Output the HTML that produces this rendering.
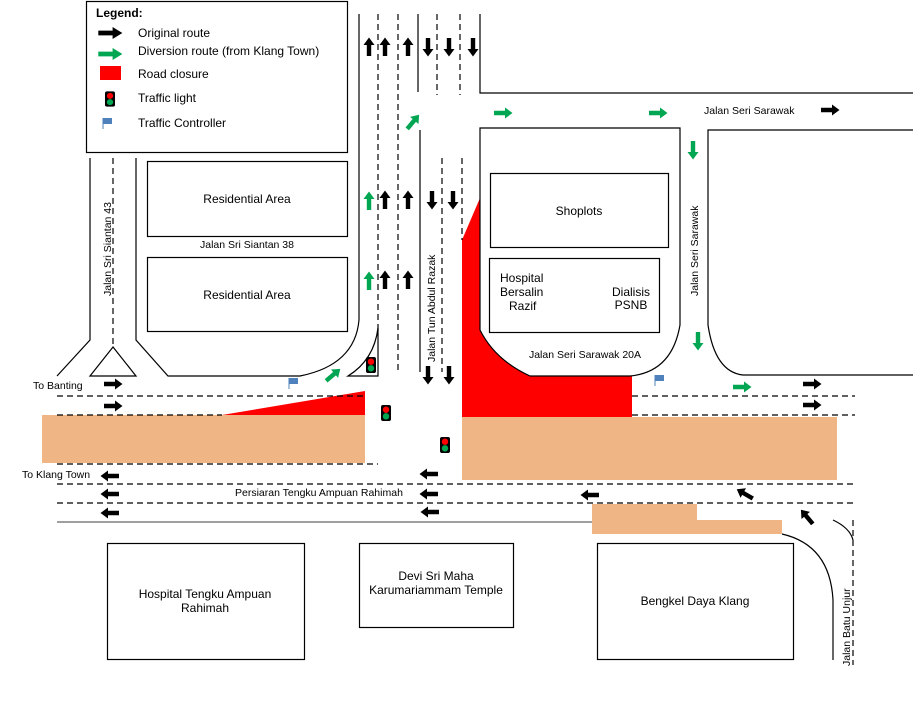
<!DOCTYPE html>
<html><head><meta charset="utf-8"><style>
html,body{margin:0;padding:0;background:#fff}
svg{display:block;font-family:"Liberation Sans",sans-serif}
text{font-size:12px;fill:#000}
</style></head><body>
<svg width="913" height="703" viewBox="0 0 913 703" xmlns="http://www.w3.org/2000/svg">
<defs>
<g id="ab"><path d="M-9,-2.2 L2,-2.2 L2,-5.5 L9.5,0 L2,5.5 L2,2.2 L-9,2.2 Z" fill="#000"/></g>
<g id="ag"><path d="M-9,-2.2 L2,-2.2 L2,-5.5 L9.5,0 L2,5.5 L2,2.2 L-9,2.2 Z" fill="#00a651"/></g>
<g id="tl"><rect x="-5" y="-8" width="10" height="16" rx="2" fill="#000"/><circle cx="0" cy="-3.3" r="3.2" fill="#f00"/><circle cx="0" cy="3.3" r="3.2" fill="#00a651"/></g>
<g id="fl"><line x1="0" y1="0" x2="0" y2="11" stroke="#4f81bd" stroke-width="1"/><rect x="0" y="0" width="9" height="6" fill="#4f81bd"/></g>
</defs>

<rect x="42" y="415" width="323" height="48" fill="#f0b585"/>
<rect x="462" y="417" width="375" height="63" fill="#f0b585"/>
<path d="M592,504 H697 V520 H782 V534 H592 Z" fill="#f0b585"/>
<path d="M222,415 L365,391 L365,415 Z" fill="#f00"/>
<path d="M462,240 L480,198 L480,330 Q495,360 530,376 L632,376 L632,417 L462,417 Z" fill="#f00"/>

<g fill="none" stroke="#000" stroke-width="1.2">
<rect x="86.5" y="1.5" width="261" height="151"/>
<path d="M359,14 V320 Q355,365 300,376 H168 L136,340 V158"/>
<path d="M90,158 V340 L57,376"/>
<path d="M113,347 L90,376 H136 Z"/>
<path d="M348,376 Q374,360 378,328 V376 Z"/>
<path d="M418,14 V92"/>
<path d="M420,130 V372"/>
<path d="M480,14 V93 H913"/>
<path d="M480,128 H680 V325 Q672,372 630,376 H530 Q495,360 480,330 Z"/>
<path d="M913,130 H708 V325 Q715,372 743,375 H913"/>
<rect x="147.5" y="161.5" width="200" height="75"/>
<rect x="147.5" y="257.5" width="200" height="74"/>
<rect x="490.5" y="173.5" width="178" height="74"/>
<rect x="489.5" y="258.5" width="170" height="74"/>
<path d="M57,522 H592" stroke="#666"/>
<path d="M782,534 Q830,545 833,600 V660"/>
<path d="M833,520 Q850,528 853,540"/>
<rect x="107.5" y="543.5" width="197" height="116"/>
<rect x="359.5" y="543.5" width="154" height="84"/>
<rect x="597.5" y="543.5" width="196" height="116"/>
</g>
<g fill="none" stroke="#000" stroke-width="1.2" stroke-dasharray="6,4">
<path d="M113,158 V347"/>
<path d="M378,14 V330"/>
<path d="M398,14 V372"/>
<path d="M437,14 V95"/><path d="M460,14 V95"/>
<path d="M442,158 V372"/><path d="M462,158 V240"/>
<path d="M57,396 H365"/><path d="M632,396 H855"/>
<path d="M57,415 H222"/><path d="M632,415 H855"/>
<path d="M57,464 H378"/>
<path d="M57,484 H855"/>
<path d="M57,503 H855"/>
<path d="M853,520 V665"/>
</g>

<text x="96" y="17" font-weight="bold">Legend:</text>
<use href="#ab" transform="translate(110,33) scale(1.3,1.1)"/>
<text x="138" y="37">Original route</text>
<use href="#ag" transform="translate(110,54) scale(1.3,1.1)"/>
<text x="138" y="55">Diversion route (from Klang Town)</text>
<rect x="100" y="66" width="21" height="14" fill="#f00"/>
<text x="138" y="78">Road closure</text>
<use href="#tl" transform="translate(110,99) scale(1,0.95)"/>
<text x="138" y="102">Traffic light</text>
<use href="#fl" transform="translate(103,118)"/>
<text x="138" y="127">Traffic Controller</text>

<text x="247" y="203" text-anchor="middle">Residential Area</text>
<text x="247" y="299" text-anchor="middle">Residential Area</text>
<text x="247" y="248" text-anchor="middle" style="font-size:10.5px">Jalan  Sri Siantan 38</text>
<text transform="translate(111,296) rotate(-90)" style="font-size:10.5px">Jalan Sri Siantan 43</text>
<text transform="translate(435,362) rotate(-90)" style="font-size:10.5px">Jalan Tun Abdul Razak</text>
<text transform="translate(698,296) rotate(-90)" style="font-size:10.5px">Jalan  Seri Sarawak</text>
<text transform="translate(850,666) rotate(-90)" style="font-size:10.5px">Jalan Batu Unjur</text>
<text x="579" y="215" text-anchor="middle">Shoplots</text>
<text x="500" y="282">Hospital</text>
<text x="500" y="296">Bersalin</text>
<text x="509" y="310">Razif</text>
<text x="631" y="296" text-anchor="middle">Dialisis</text>
<text x="631" y="309" text-anchor="middle">PSNB</text>
<text x="585" y="358" text-anchor="middle" style="font-size:10.5px">Jalan  Seri Sarawak 20A</text>
<text x="704" y="114" style="font-size:10.5px">Jalan  Seri Sarawak</text>
<text x="33" y="389" style="font-size:10.5px">To Banting</text>
<text x="22" y="478" style="font-size:10.5px">To Klang Town</text>
<text x="235" y="496" style="font-size:10.5px">Persiaran Tengku  Ampuan Rahimah</text>
<text x="205" y="598" text-anchor="middle">Hospital Tengku Ampuan</text>
<text x="205" y="612" text-anchor="middle">Rahimah</text>
<text x="436" y="580" text-anchor="middle">Devi Sri Maha</text>
<text x="436" y="594" text-anchor="middle">Karumariammam Temple</text>
<text x="695" y="605" text-anchor="middle">Bengkel Daya Klang</text>

<use href="#tl" transform="translate(371,365)"/>
<use href="#tl" transform="translate(386,413)"/>
<use href="#tl" transform="translate(445,445)"/>
<use href="#fl" transform="translate(289,378)"/>
<use href="#fl" transform="translate(655,375)"/>

<use href="#ab" transform="translate(369,47) rotate(-90)"/>
<use href="#ab" transform="translate(385,47) rotate(-90)"/>
<use href="#ab" transform="translate(408,47) rotate(-90)"/>
<use href="#ab" transform="translate(428,47) rotate(90)"/>
<use href="#ab" transform="translate(449,47) rotate(90)"/>
<use href="#ab" transform="translate(473,47) rotate(90)"/>
<use href="#ag" transform="translate(369,201) rotate(-90)"/>
<use href="#ab" transform="translate(385,200) rotate(-90)"/>
<use href="#ab" transform="translate(408,200) rotate(-90)"/>
<use href="#ab" transform="translate(432,200) rotate(90)"/>
<use href="#ab" transform="translate(453,200) rotate(90)"/>
<use href="#ag" transform="translate(369,281) rotate(-90)"/>
<use href="#ab" transform="translate(385,280) rotate(-90)"/>
<use href="#ab" transform="translate(408,280) rotate(-90)"/>
<use href="#ab" transform="translate(428,375) rotate(90)"/>
<use href="#ab" transform="translate(449,375) rotate(90)"/>
<use href="#ag" transform="translate(413,122) rotate(-50)"/>
<use href="#ag" transform="translate(333,375) rotate(-40)"/>
<use href="#ag" transform="translate(503,113)"/>
<use href="#ag" transform="translate(658,113)"/>
<use href="#ag" transform="translate(742,387)"/>
<use href="#ag" transform="translate(693,150) rotate(90)"/>
<use href="#ag" transform="translate(698,341) rotate(90)"/>
<use href="#ab" transform="translate(830,110)"/>
<use href="#ab" transform="translate(113,384)"/>
<use href="#ab" transform="translate(113,406)"/>
<use href="#ab" transform="translate(812,384)"/>
<use href="#ab" transform="translate(812,405)"/>
<use href="#ab" transform="translate(110,476) rotate(180)"/>
<use href="#ab" transform="translate(110,494) rotate(180)"/>
<use href="#ab" transform="translate(110,513) rotate(180)"/>
<use href="#ab" transform="translate(429,474) rotate(180)"/>
<use href="#ab" transform="translate(429,494) rotate(180)"/>
<use href="#ab" transform="translate(430,512) rotate(180)"/>
<use href="#ab" transform="translate(590,495) rotate(180)"/>
<use href="#ab" transform="translate(745,494) rotate(-150)"/>
<use href="#ab" transform="translate(807,517) rotate(-130)"/>
</svg>
</body></html>
